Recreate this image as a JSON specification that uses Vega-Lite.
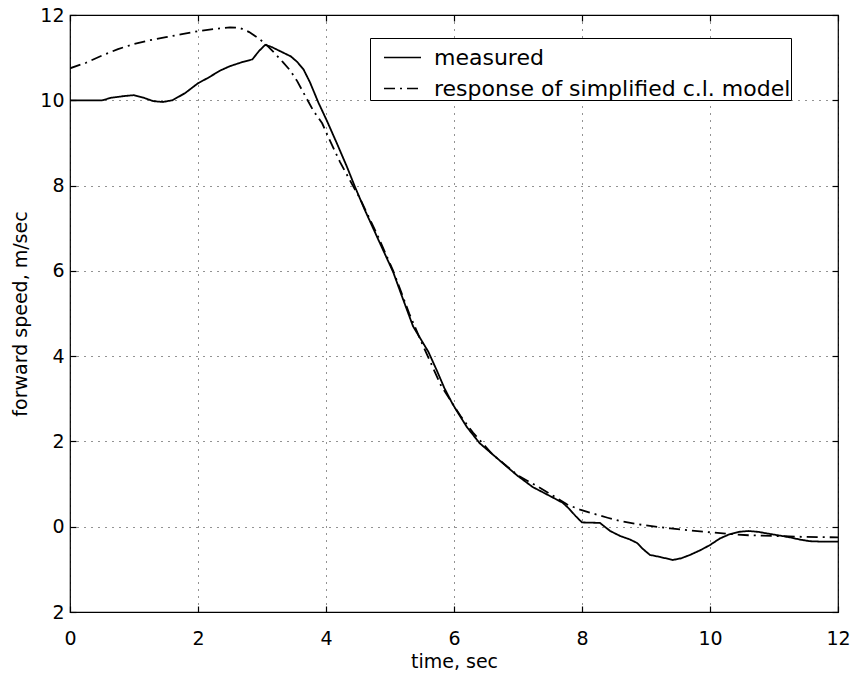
{
  "$schema": "https://vega.github.io/schema/vega-lite/v6.json",
  "width": 768,
  "height": 597,
  "autosize": {"type": "none"},
  "padding": {"left": 70, "top": 15, "right": 16, "bottom": 65},
  "background": "white",
  "config": {
    "view": {"stroke": "black", "strokeWidth": 1.2},
    "axis": {
      "labelFont": "DejaVu Sans",
      "titleFont": "DejaVu Sans",
      "labelFontSize": 19,
      "titleFontSize": 19,
      "titleFontWeight": "normal",
      "labelColor": "black",
      "titleColor": "black",
      "domainColor": "black",
      "tickColor": "black",
      "tickWidth": 1.2,
      "gridColor": "black",
      "gridDash": [1, 6],
      "gridWidth": 1,
      "gridOpacity": 0.85,
      "labelFlush": false,
      "labelOverlap": false
    }
  },
  "data": {
    "values": [
      {"t": 0, "v": 10.0, "s": "measured"},
      {"t": 0.3, "v": 10.0, "s": "measured"},
      {"t": 0.5, "v": 10.0, "s": "measured"},
      {"t": 0.65, "v": 10.06, "s": "measured"},
      {"t": 0.85, "v": 10.1, "s": "measured"},
      {"t": 1.0, "v": 10.12, "s": "measured"},
      {"t": 1.15, "v": 10.06, "s": "measured"},
      {"t": 1.3, "v": 9.98, "s": "measured"},
      {"t": 1.45, "v": 9.96, "s": "measured"},
      {"t": 1.6, "v": 10.0, "s": "measured"},
      {"t": 1.8, "v": 10.17, "s": "measured"},
      {"t": 2.0, "v": 10.4, "s": "measured"},
      {"t": 2.15, "v": 10.52, "s": "measured"},
      {"t": 2.35, "v": 10.7, "s": "measured"},
      {"t": 2.5, "v": 10.8, "s": "measured"},
      {"t": 2.7, "v": 10.9, "s": "measured"},
      {"t": 2.85, "v": 10.96, "s": "measured"},
      {"t": 2.95, "v": 11.15, "s": "measured"},
      {"t": 3.05, "v": 11.3, "s": "measured"},
      {"t": 3.15, "v": 11.25, "s": "measured"},
      {"t": 3.3, "v": 11.14, "s": "measured"},
      {"t": 3.45, "v": 11.03, "s": "measured"},
      {"t": 3.55, "v": 10.9, "s": "measured"},
      {"t": 3.65, "v": 10.72, "s": "measured"},
      {"t": 3.75, "v": 10.42, "s": "measured"},
      {"t": 3.88, "v": 9.95, "s": "measured"},
      {"t": 4.02, "v": 9.5, "s": "measured"},
      {"t": 4.17, "v": 8.99, "s": "measured"},
      {"t": 4.33, "v": 8.43, "s": "measured"},
      {"t": 4.45, "v": 7.98, "s": "measured"},
      {"t": 4.6, "v": 7.45, "s": "measured"},
      {"t": 4.8, "v": 6.79, "s": "measured"},
      {"t": 5.05, "v": 5.97, "s": "measured"},
      {"t": 5.2, "v": 5.35, "s": "measured"},
      {"t": 5.36, "v": 4.7, "s": "measured"},
      {"t": 5.5, "v": 4.35, "s": "measured"},
      {"t": 5.6, "v": 4.1, "s": "measured"},
      {"t": 5.73, "v": 3.67, "s": "measured"},
      {"t": 5.85, "v": 3.25, "s": "measured"},
      {"t": 5.97, "v": 2.9, "s": "measured"},
      {"t": 6.05, "v": 2.7, "s": "measured"},
      {"t": 6.2, "v": 2.34, "s": "measured"},
      {"t": 6.4, "v": 1.96, "s": "measured"},
      {"t": 6.67, "v": 1.61, "s": "measured"},
      {"t": 6.98, "v": 1.21, "s": "measured"},
      {"t": 7.23, "v": 0.93, "s": "measured"},
      {"t": 7.5, "v": 0.72, "s": "measured"},
      {"t": 7.7, "v": 0.56, "s": "measured"},
      {"t": 7.8, "v": 0.42, "s": "measured"},
      {"t": 7.9, "v": 0.25, "s": "measured"},
      {"t": 8.0, "v": 0.1, "s": "measured"},
      {"t": 8.28, "v": 0.09, "s": "measured"},
      {"t": 8.44, "v": -0.1, "s": "measured"},
      {"t": 8.6, "v": -0.22, "s": "measured"},
      {"t": 8.75, "v": -0.3, "s": "measured"},
      {"t": 8.86, "v": -0.38, "s": "measured"},
      {"t": 8.95, "v": -0.52, "s": "measured"},
      {"t": 9.06, "v": -0.66, "s": "measured"},
      {"t": 9.22, "v": -0.71, "s": "measured"},
      {"t": 9.42, "v": -0.78, "s": "measured"},
      {"t": 9.55, "v": -0.74, "s": "measured"},
      {"t": 9.69, "v": -0.66, "s": "measured"},
      {"t": 9.85, "v": -0.55, "s": "measured"},
      {"t": 10.0, "v": -0.43, "s": "measured"},
      {"t": 10.15, "v": -0.28, "s": "measured"},
      {"t": 10.3, "v": -0.18, "s": "measured"},
      {"t": 10.45, "v": -0.12, "s": "measured"},
      {"t": 10.6, "v": -0.1, "s": "measured"},
      {"t": 10.75, "v": -0.12, "s": "measured"},
      {"t": 10.9, "v": -0.16, "s": "measured"},
      {"t": 11.1, "v": -0.21, "s": "measured"},
      {"t": 11.25, "v": -0.25, "s": "measured"},
      {"t": 11.4, "v": -0.3, "s": "measured"},
      {"t": 11.56, "v": -0.34, "s": "measured"},
      {"t": 11.75, "v": -0.35, "s": "measured"},
      {"t": 12.0, "v": -0.35, "s": "measured"},
      {"t": 0, "v": 10.75, "s": "response of simplified c.l. model"},
      {"t": 0.25, "v": 10.88, "s": "response of simplified c.l. model"},
      {"t": 0.5, "v": 11.05, "s": "response of simplified c.l. model"},
      {"t": 0.75, "v": 11.2, "s": "response of simplified c.l. model"},
      {"t": 1.0, "v": 11.32, "s": "response of simplified c.l. model"},
      {"t": 1.25, "v": 11.41, "s": "response of simplified c.l. model"},
      {"t": 1.5, "v": 11.48, "s": "response of simplified c.l. model"},
      {"t": 1.75, "v": 11.55, "s": "response of simplified c.l. model"},
      {"t": 2.0, "v": 11.62, "s": "response of simplified c.l. model"},
      {"t": 2.25, "v": 11.67, "s": "response of simplified c.l. model"},
      {"t": 2.5, "v": 11.71, "s": "response of simplified c.l. model"},
      {"t": 2.65, "v": 11.7, "s": "response of simplified c.l. model"},
      {"t": 2.8, "v": 11.6, "s": "response of simplified c.l. model"},
      {"t": 2.95, "v": 11.45, "s": "response of simplified c.l. model"},
      {"t": 3.07, "v": 11.3, "s": "response of simplified c.l. model"},
      {"t": 3.2, "v": 11.1, "s": "response of simplified c.l. model"},
      {"t": 3.33, "v": 10.89, "s": "response of simplified c.l. model"},
      {"t": 3.44, "v": 10.7, "s": "response of simplified c.l. model"},
      {"t": 3.55, "v": 10.45, "s": "response of simplified c.l. model"},
      {"t": 3.64, "v": 10.2, "s": "response of simplified c.l. model"},
      {"t": 3.8, "v": 9.76, "s": "response of simplified c.l. model"},
      {"t": 3.94, "v": 9.46, "s": "response of simplified c.l. model"},
      {"t": 4.06, "v": 9.06, "s": "response of simplified c.l. model"},
      {"t": 4.22, "v": 8.55, "s": "response of simplified c.l. model"},
      {"t": 4.4, "v": 8.05, "s": "response of simplified c.l. model"},
      {"t": 4.53, "v": 7.7, "s": "response of simplified c.l. model"},
      {"t": 4.8, "v": 6.85, "s": "response of simplified c.l. model"},
      {"t": 5.05, "v": 6.0, "s": "response of simplified c.l. model"},
      {"t": 5.3, "v": 5.0, "s": "response of simplified c.l. model"},
      {"t": 5.5, "v": 4.3, "s": "response of simplified c.l. model"},
      {"t": 5.65, "v": 3.8, "s": "response of simplified c.l. model"},
      {"t": 5.8, "v": 3.3, "s": "response of simplified c.l. model"},
      {"t": 5.95, "v": 2.95, "s": "response of simplified c.l. model"},
      {"t": 6.1, "v": 2.6, "s": "response of simplified c.l. model"},
      {"t": 6.3, "v": 2.2, "s": "response of simplified c.l. model"},
      {"t": 6.6, "v": 1.7, "s": "response of simplified c.l. model"},
      {"t": 7.0, "v": 1.2, "s": "response of simplified c.l. model"},
      {"t": 7.3, "v": 0.95, "s": "response of simplified c.l. model"},
      {"t": 7.6, "v": 0.68, "s": "response of simplified c.l. model"},
      {"t": 7.77, "v": 0.52, "s": "response of simplified c.l. model"},
      {"t": 7.97, "v": 0.4, "s": "response of simplified c.l. model"},
      {"t": 8.17, "v": 0.31, "s": "response of simplified c.l. model"},
      {"t": 8.4, "v": 0.21, "s": "response of simplified c.l. model"},
      {"t": 8.6, "v": 0.13, "s": "response of simplified c.l. model"},
      {"t": 8.95, "v": 0.04, "s": "response of simplified c.l. model"},
      {"t": 9.38, "v": -0.04, "s": "response of simplified c.l. model"},
      {"t": 9.7, "v": -0.09, "s": "response of simplified c.l. model"},
      {"t": 10.0, "v": -0.13, "s": "response of simplified c.l. model"},
      {"t": 10.3, "v": -0.17, "s": "response of simplified c.l. model"},
      {"t": 10.6, "v": -0.2, "s": "response of simplified c.l. model"},
      {"t": 11.1, "v": -0.22, "s": "response of simplified c.l. model"},
      {"t": 11.5, "v": -0.24, "s": "response of simplified c.l. model"},
      {"t": 12.0, "v": -0.25, "s": "response of simplified c.l. model"}
    ]
  },
  "layer": [
    {
      "mark": {"type": "line", "color": "black", "strokeWidth": 1.8, "clip": true},
      "encoding": {
        "x": {
          "field": "t", "type": "quantitative",
          "scale": {"domain": [0, 12], "nice": false, "zero": false},
          "axis": {"title": "time, sec", "values": [0, 2, 4, 6, 8, 10, 12], "tickSize": -6, "labelPadding": 23, "titlePadding": 4, "grid": true, "domain": false}
        },
        "y": {
          "field": "v", "type": "quantitative",
          "scale": {"domain": [-2, 12], "nice": false, "zero": false},
          "axis": {"title": "forward speed, m/sec", "values": [-2, 0, 2, 4, 6, 8, 10, 12], "tickSize": -6, "labelPadding": 12, "titlePadding": 9, "grid": true, "domain": false, "labelExpr": "datum.value < 0 ? '2' : datum.label"}
        },
        "strokeDash": {
          "field": "s", "type": "nominal",
          "scale": {"domain": ["measured", "response of simplified c.l. model"], "range": [[1, 0], [11, 5, 2, 5]]},
          "legend": {
            "title": null,
            "orient": "none",
            "legendX": 300,
            "legendY": 23,
            "direction": "vertical",
            "strokeColor": "black",
            "fillColor": "white",
            "padding": 0,
            "symbolOffset": 13,
            "symbolType": "stroke",
            "symbolSize": 1369,
            "symbolStrokeWidth": 1.5,
            "symbolStrokeColor": "black",
            "labelFont": "DejaVu Sans",
            "labelFontSize": 22,
            "labelColor": "black",
            "labelOffset": 12,
            "rowPadding": -17,
            "labelLimit": 600
          }
        }
      }
    },
    {
      "mark": {"type": "line", "opacity": 0},
      "encoding": {
        "x": {"field": "t", "type": "quantitative", "scale": {"domain": [0, 12], "nice": false, "zero": false},
          "axis": {"orient": "top", "values": [0, 2, 4, 6, 8, 10, 12], "labels": false, "title": null, "tickSize": -6, "grid": false, "domain": false}},
        "y": {"field": "v", "type": "quantitative", "scale": {"domain": [-2, 12], "nice": false, "zero": false},
          "axis": {"orient": "right", "values": [-2, 0, 2, 4, 6, 8, 10, 12], "labels": false, "title": null, "tickSize": -6, "grid": false, "domain": false}},
        "detail": {"field": "s"}
      }
    }
  ],
  "resolve": {"axis": {"x": "independent", "y": "independent"}}
}
